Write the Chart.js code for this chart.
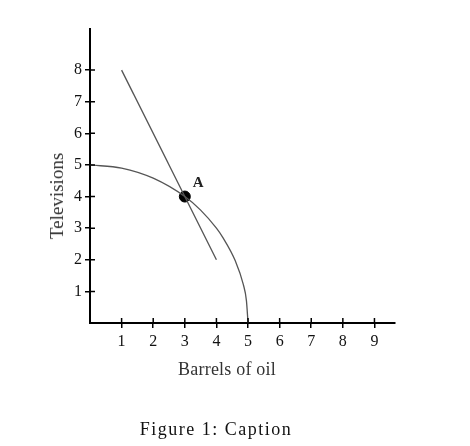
<!DOCTYPE html>
<html>
<head>
<meta charset="utf-8">
<script src="https://cdn.jsdelivr.net/npm/chart.js@4.4.1/dist/chart.umd.min.js"></script>
<style>
html,body{margin:0;padding:0;background:#fff;}
#wrap{position:relative;width:470px;height:446px;}
canvas{position:absolute;left:0;top:0;}
.t{position:absolute;font-family:"Liberation Serif","Times New Roman",serif;color:#222;white-space:nowrap;}
#ytitle{left:57px;top:196px;font-size:19px;color:#333;transform:translate(-50%,-50%) rotate(-90deg);}
#xtitle{left:227px;top:369px;font-size:18px;letter-spacing:0.2px;color:#333;transform:translate(-50%,-50%);}
#caption{left:216px;top:429px;font-size:18px;letter-spacing:1.5px;color:#111;transform:translate(-50%,-50%);}
</style>
</head>
<body>
<div id="wrap">
<canvas id="c" width="470" height="446"></canvas>
<div class="t" id="ytitle">Televisions</div>
<div class="t" id="xtitle">Barrels of oil</div>
<div class="t" id="caption">Figure 1: Caption</div>
</div>
<script>
// Data
const xTicks = [1, 2, 3, 4, 5, 6, 7, 8, 9];
const yTicks = [1, 2, 3, 4, 5, 6, 7, 8];
const lineX = [1, 4];
const lineY = [8, 2];
const curveX = [0, 1, 2, 3, 3.5, 4, 4.2, 4.6, 4.85, 4.95, 5];
const curveY = [5, 4.9, 4.58, 4, 3.57, 3, 2.71, 1.96, 1.22, 0.7, 0];
const pointX = [3];
const pointY = [4];
const pointLabels = ["A"];

const toXY = (xs, ys) => xs.map((x, i) => ({x: x, y: ys[i]}));

const innerTicks = {
  id: 'innerTicks',
  afterDraw(chart) {
    const ctx = chart.ctx, xs = chart.scales.x, ys = chart.scales.y, a = chart.chartArea;
    ctx.save();
    ctx.strokeStyle = '#000';
    ctx.lineWidth = 1.5;
    ctx.beginPath();
    xTicks.forEach(v => { const p = xs.getPixelForValue(v); ctx.moveTo(p, a.bottom); ctx.lineTo(p, a.bottom - 5); });
    yTicks.forEach(v => { const p = ys.getPixelForValue(v); ctx.moveTo(a.left, p); ctx.lineTo(a.left + 5, p); });
    ctx.stroke();
    // point labels
    ctx.fillStyle = '#222';
    ctx.font = 'bold 15px "Liberation Serif", serif';
    ctx.textAlign = 'left';
    ctx.textBaseline = 'middle';
    pointLabels.forEach((t, i) => {
      ctx.fillText(t, xs.getPixelForValue(pointX[i]) + 8, ys.getPixelForValue(pointY[i]) - 13);
    });
    ctx.restore();
  }
};

new Chart(document.getElementById('c'), {
  type: 'scatter',
  data: {
    datasets: [
      { data: toXY(lineX, lineY), showLine: true, borderColor: '#555', borderWidth: 1.3, pointRadius: 0, fill: false },
      { data: toXY(curveX, curveY), showLine: true, borderColor: '#555', borderWidth: 1.3, pointRadius: 0, fill: false, cubicInterpolationMode: 'monotone' },
      { data: toXY(pointX, pointY), pointRadius: 5.5, pointBackgroundColor: '#000', pointBorderColor: '#000' }
    ]
  },
  options: {
    responsive: false,
    animation: false,
    devicePixelRatio: 1,
    layout: { padding: { left: 60, top: 29, right: 75, bottom: 83 } },
    plugins: { legend: { display: false }, tooltip: { enabled: false } },
    scales: {
      x: {
        type: 'linear', min: 0, max: 9.65,
        afterFit: s => { s.height = 40; },
        afterBuildTicks: s => { s.ticks = xTicks.map(v => ({value: v})); },
        border: { color: '#000', width: 2 },
        grid: { drawOnChartArea: false, drawTicks: true, tickLength: 5, color: '#000', lineWidth: 1.5 },
        ticks: { color: '#111', padding: 4, font: { family: '"Liberation Serif", serif', size: 16 } }
      },
      y: {
        type: 'linear', min: 0, max: 9.3,
        afterFit: s => { s.width = 30; },
        afterBuildTicks: s => { s.ticks = yTicks.map(v => ({value: v})); },
        border: { color: '#000', width: 2 },
        grid: { drawOnChartArea: false, drawTicks: true, tickLength: 5, color: '#000', lineWidth: 1.5 },
        ticks: { color: '#111', padding: 3, font: { family: '"Liberation Serif", serif', size: 16 } }
      }
    }
  },
  plugins: [innerTicks]
});
</script>
</body>
</html>
